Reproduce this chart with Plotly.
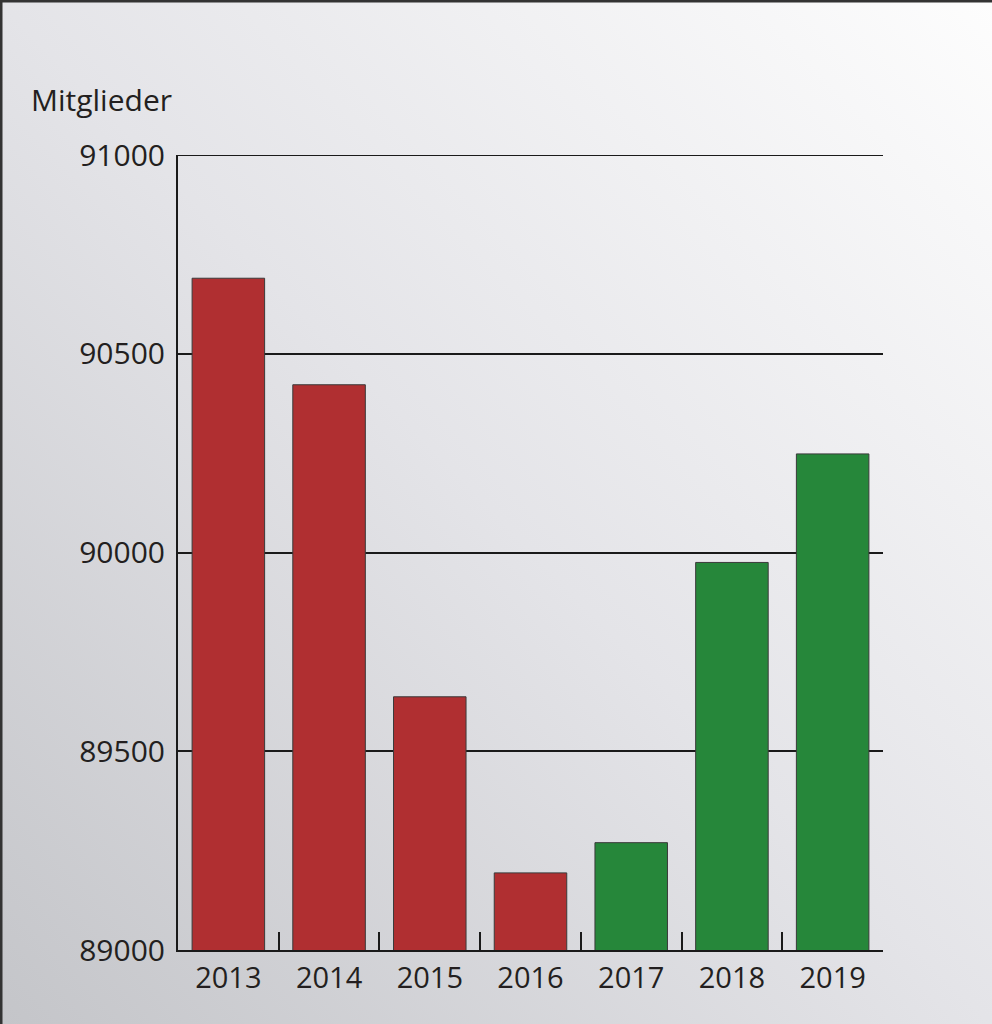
import base64
import plotly.graph_objects as go

years = ["2013", "2014", "2015", "2016", "2017", "2018", "2019"]
members = [90690, 90422, 89637, 89194, 89270, 89975, 90248]
bar_colors = ["#b02f31", "#b02f31", "#b02f31", "#b02f31", "#26873a", "#26873a", "#26873a"]
y_ticks = [89000, 89500, 90000, 90500, 91000]
y_title = "Mitglieder"

svg = (
    '<svg xmlns="http://www.w3.org/2000/svg" width="992" height="1024">'
    '<defs><linearGradient id="g" x1="0" y1="1" x2="1" y2="0">'
    '<stop offset="0" stop-color="#c4c5c9"/>'
    '<stop offset="0.5" stop-color="#e4e4e8"/>'
    '<stop offset="1" stop-color="#fdfdfd"/>'
    '</linearGradient></defs>'
    '<rect width="992" height="1024" fill="url(#g)"/>'
    '</svg>'
)
bg_uri = "data:image/svg+xml;base64," + base64.b64encode(svg.encode()).decode()

fig = go.Figure(
    go.Bar(
        x=years,
        y=members,
        marker=dict(color=bar_colors, line=dict(color="#3a3a3a", width=1)),
        width=0.72,
    )
)

font_family = "Open Sans, Noto Sans, sans-serif"
PW, PH = 705, 795

fig.update_layout(
    width=992,
    height=1024,
    margin=dict(l=178, r=109, t=155, b=74),
    paper_bgcolor="#e2e3e6",
    plot_bgcolor="rgba(0,0,0,0)",
    showlegend=False,
    font=dict(family=font_family, color="#231f20"),
    images=[
        dict(
            source=bg_uri,
            xref="paper", yref="paper",
            x=-178 / PW, y=1 + 155 / PH,
            sizex=992 / PW, sizey=1024 / PH,
            xanchor="left", yanchor="top",
            sizing="stretch",
            layer="below",
        )
    ],
    annotations=[
        dict(
            text=y_title,
            xref="paper", yref="paper",
            x=-149 / PW, y=1 + 56 / PH,
            xanchor="left", yanchor="middle",
            showarrow=False,
            font=dict(size=30, family=font_family, color="#231f20"),
        )
    ],
    shapes=[
        dict(type="line", xref="paper", yref="y",
             x0=0, x1=1, y0=y_ticks[-1], y1=y_ticks[-1],
             line=dict(color="#1a1a1a", width=2)),
        dict(type="line", xref="paper", yref="paper",
             x0=-177 / PW, x1=-177 / PW, y0=-74 / PH, y1=1 + 155 / PH,
             line=dict(color="#333333", width=3)),
        dict(type="line", xref="paper", yref="paper",
             x0=-178 / PW, x1=1 + 109 / PW, y0=1 + 154 / PH, y1=1 + 154 / PH,
             line=dict(color="#333333", width=3)),
    ],
)

fig.update_xaxes(
    type="category",
    showline=True,
    linecolor="#1a1a1a",
    linewidth=2,
    showgrid=False,
    ticks="inside",
    tickson="boundaries",
    ticklen=18,
    tickwidth=2,
    tickcolor="#1a1a1a",
    tickfont=dict(size=29, family=font_family, color="#231f20"),
    ticklabelstandoff=1,
    range=[-0.5, 6.5],
)

fig.update_yaxes(
    range=[89000, 91000],
    tickvals=y_ticks,
    ticktext=[str(v) for v in y_ticks],
    showline=True,
    linecolor="#1a1a1a",
    linewidth=2,
    showgrid=True,
    gridcolor="#1a1a1a",
    gridwidth=2,
    ticks="",
    zeroline=False,
    tickfont=dict(size=30, family=font_family, color="#231f20"),
    ticklabelstandoff=5,
)

fig.write_html(
    "out.html",
    config={"displayModeBar": False},
    post_script="document.body.style.margin='0';document.body.style.padding='0';",
)
